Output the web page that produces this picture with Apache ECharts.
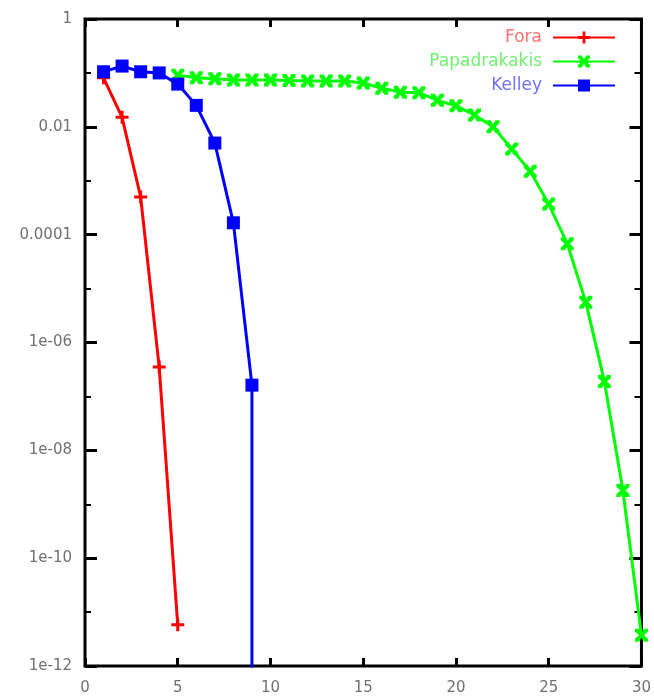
<!DOCTYPE html>
<html>
<head>
<meta charset="utf-8">
<script src="https://cdn.jsdelivr.net/npm/echarts@6/dist/echarts.min.js"></script>
<style>
html,body{margin:0;padding:0;background:#fff;}
#chart{width:654px;height:699px;}
</style>
</head>
<body>
<div id="chart"></div>
<script>
// ---- data ----
const seriesNames = ['Fora', 'Papadrakakis', 'Kelley'];

const foraIter = [1, 2, 3, 4, 5];
const foraRes  = [0.081, 0.015, 5.0e-4, 3.5e-7, 5.8e-12];

const papaIter = [5, 6, 7, 8, 9, 10, 11, 12, 13, 14, 15, 16, 17, 18, 19, 20,
                  21, 22, 23, 24, 25, 26, 27, 28, 29, 30];
const papaRes  = [0.091, 0.081, 0.078, 0.074, 0.074, 0.074, 0.072, 0.071, 0.071, 0.071,
                  0.065, 0.052, 0.044, 0.043, 0.031, 0.0245, 0.0166, 0.010, 0.0039, 0.0015,
                  3.7e-4, 6.8e-5, 5.6e-6, 1.9e-7, 1.8e-9, 3.7e-12];

// last Kelley point falls below the axis floor (drops straight down at iteration 9)
const kelleyIter = [1, 2, 3, 4, 5, 6, 7, 8, 9, 9];
const kelleyRes  = [0.105, 0.134, 0.105, 0.1, 0.062, 0.025, 0.005, 1.66e-4, 1.62e-7, 1e-14];

const xTickLabels = ['0', '5', '10', '15', '20', '25', '30'];
const yTickLabels = {'0': '1', '-2': '0.01', '-4': '0.0001', '-6': '1e-06',
                     '-8': '1e-08', '-10': '1e-10', '-12': '1e-12'};

// ---- styling ----
const colors = ['#ff0000', '#00ff00', '#0000ff'];
const legendTextColors = ['#ff7070', '#70f070', '#7070ff'];
const plusPath  = 'path://M0,5L5,5L5,0L8,0L8,5L13,5L13,8L8,8L8,13L5,13L5,8L0,8Z';
const crossPath = 'path://M0,0L4,0L6.5,4L9,0L13,0L13,3L9,6.5L13,10L13,13L9,13L6.5,9L4,13L0,13L0,10L4,6.5L0,3Z';

function pairs(xs, ys) { return xs.map((x, i) => [x, ys[i]]); }

const kelleyData = pairs(kelleyIter, kelleyRes).map((p, i, arr) =>
  i === arr.length - 1 ? {value: p, symbol: 'none'} : p);

const fontFam = '"DejaVu Sans", sans-serif';

const logAxisBase = {
  type: 'log', logBase: 10, min: 1e-12, max: 1,
  splitLine: {show: false},
  axisLine: {show: false}
};

const chart = echarts.init(document.getElementById('chart'), null, {renderer: 'canvas'});
chart.setOption({
  animation: false,
  backgroundColor: '#ffffff',
  grid: {left: 85, right: 12, top: 19, bottom: 33, show: true,
         borderColor: '#000', borderWidth: 3, backgroundColor: 'transparent'},
  legend: {
    orient: 'vertical', align: 'right', right: 38, top: 29, padding: 0,
    itemWidth: 62, itemHeight: 15, itemGap: 7,
    data: seriesNames.map((n, i) => ({name: n, textStyle: {color: legendTextColors[i]}})),
    textStyle: {fontFamily: fontFam, fontSize: 17, padding: [0, 6, 0, 0]}
  },
  xAxis: [
    {type: 'value', min: 0, max: 30, interval: 5, position: 'bottom',
     splitLine: {show: false}, axisLine: {show: false},
     axisTick: {inside: true, length: 8, lineStyle: {color: '#000', width: 3}},
     axisLabel: {margin: 15, color: '#707070', fontFamily: fontFam, fontSize: 15,
                 formatter: (v) => xTickLabels[Math.round(v / 5)]}},
    {type: 'value', min: 0, max: 30, interval: 5, position: 'top',
     splitLine: {show: false}, axisLine: {show: false},
     axisTick: {inside: true, length: 8, lineStyle: {color: '#000', width: 3}},
     axisLabel: {show: false}}
  ],
  yAxis: [
    Object.assign({}, logAxisBase, {position: 'left', interval: 2, splitNumber: 6,
      axisTick: {inside: true, length: 12, lineStyle: {color: '#000', width: 3}},
      axisLabel: {margin: 13, color: '#707070', fontFamily: fontFam, fontSize: 15,
        formatter: (v) => { const e = Math.round(Math.log10(v)); return yTickLabels[String(e)] || ''; }}}),
    Object.assign({}, logAxisBase, {position: 'left', interval: 1, splitNumber: 12,
      axisTick: {inside: true, length: 6, lineStyle: {color: '#000', width: 2}},
      axisLabel: {show: false}}),
    Object.assign({}, logAxisBase, {position: 'right', interval: 2, splitNumber: 6,
      axisTick: {inside: true, length: 12, lineStyle: {color: '#000', width: 3}},
      axisLabel: {show: false}}),
    Object.assign({}, logAxisBase, {position: 'right', interval: 1, splitNumber: 12,
      axisTick: {inside: true, length: 7, lineStyle: {color: '#000', width: 2}},
      axisLabel: {show: false}})
  ],
  series: [
    {name: 'Fora', type: 'line', data: pairs(foraIter, foraRes),
     symbol: plusPath, symbolSize: 13, showAllSymbol: true, clip: true,
     lineStyle: {color: colors[0], width: 3}, itemStyle: {color: colors[0]}, z: 2},
    {name: 'Papadrakakis', type: 'line', data: pairs(papaIter, papaRes),
     symbol: crossPath, symbolSize: 13, showAllSymbol: true, clip: true,
     lineStyle: {color: colors[1], width: 3}, itemStyle: {color: colors[1]}, z: 3},
    {name: 'Kelley', type: 'line', data: kelleyData,
     symbol: 'rect', symbolSize: 13, showAllSymbol: true, clip: true,
     lineStyle: {color: colors[2], width: 3}, itemStyle: {color: colors[2]}, z: 4}
  ]
});
</script>
</body>
</html>
